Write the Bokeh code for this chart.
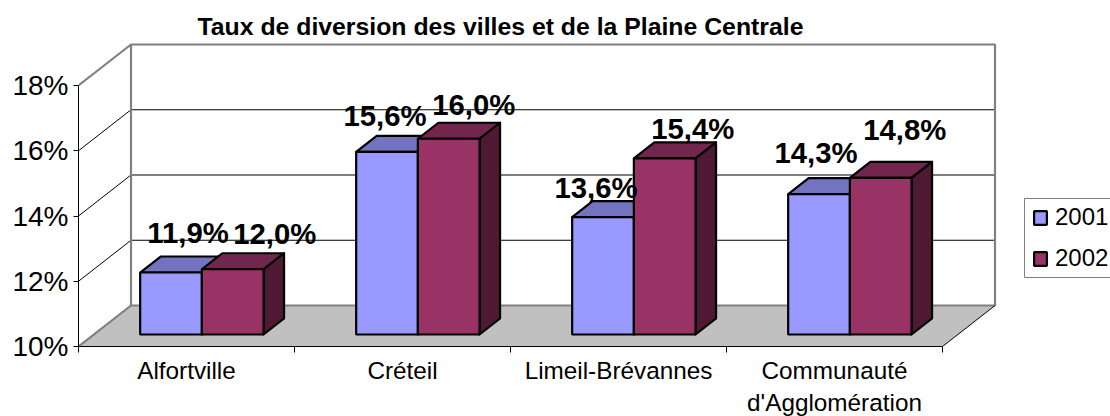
from bokeh.plotting import figure
from bokeh.models import (ColumnDataSource, FixedTicker, Legend, LegendItem, LinearAxis, Range1d, Title)
from bokeh.embed import file_html
from bokeh.resources import INLINE
from bokeh.core.properties import value

# ---- data
categories = ["Alfortville", "Créteil", "Limeil-Brévannes", "Communauté\nd'Agglomération"]
series_2001 = [11.9, 15.6, 13.6, 14.3]
series_2002 = [12.0, 16.0, 15.4, 14.8]
labels_2001 = ["11,9%", "15,6%", "13,6%", "14,3%"]
labels_2002 = ["12,0%", "16,0%", "15,4%", "14,8%"]
y_ticks = [10, 12, 14, 16, 18]
y_labels = ["10%", "12%", "14%", "16%", "18%"]
title = "Taux de diversion des villes et de la Plaine Centrale"

# ---- layout (pixels per unit, 3-D depth)
PX_CAT = 216.0
PX_PCT = 32.625
DX = 52.5 / PX_CAT
DY = 41 / PX_PCT
BAR_W = 61.7 / PX_CAT
D_FRONT = 12 / 41
D_BAR = 16 / 41
LEFT, TOP, BOTTOM = 78, 40, 70
W, H = 1110, 416
FONT = value("Liberation Sans")

lab_dx_2001 = [17, -2, -7, -3]
lab_dx_2002 = [42, 25, 28, 24]
lab_dy_2001 = [-40, -36, -30, -42]
lab_dy_2002 = [-36, -34, -30, -48]

p = figure(width=W, height=H, frame_width=W - LEFT, frame_height=H - TOP - BOTTOM,
           output_backend="svg", toolbar_location=None,
           x_range=Range1d(0, (W - LEFT) / PX_CAT),
           y_range=Range1d(10, 10 + (H - BOTTOM - TOP) / PX_PCT),
           min_border_left=LEFT, min_border_right=0, min_border_top=TOP, min_border_bottom=BOTTOM,
           x_axis_type=None, y_axis_type=None, outline_line_color=None,
           background_fill_color="white", border_fill_color="white")
p.grid.visible = False

p.add_layout(Title(text=title, align="left", offset=119, standoff=1,
                   text_font="Liberation Sans", text_font_size="24.8px",
                   text_font_style="bold", text_color="black"), "above")

n = len(categories)
ymin, ymax = y_ticks[0], y_ticks[-1]

def qx(x, d):
    return x + d * DX

def qy(v, d):
    return v + d * DY

# axes
yax = LinearAxis(ticker=FixedTicker(ticks=y_ticks), bounds=(ymin, ymax),
                 major_label_overrides={t: l for t, l in zip(y_ticks, y_labels)},
                 major_label_text_font="Liberation Sans", major_label_text_font_size="28px",
                 major_label_text_color="black",
                 axis_line_color="black", axis_line_width=1,
                 major_tick_line_color="black", major_tick_in=0, major_tick_out=5,
                 minor_tick_line_color=None, major_label_standoff=5)
p.add_layout(yax, "left")
xax = LinearAxis(ticker=FixedTicker(ticks=[i + 0.5 for i in range(n)],
                                    minor_ticks=list(range(n + 1))),
                 bounds=(0, n),
                 major_label_overrides={i + 0.5: c for i, c in enumerate(categories)},
                 major_label_text_font="Liberation Sans", major_label_text_font_size="24.3px",
                 major_label_text_color="black",
                 axis_line_color="black", axis_line_width=1,
                 major_tick_line_color=None, major_tick_out=0, major_tick_in=0,
                 minor_tick_line_color="black", minor_tick_in=0, minor_tick_out=6,
                 major_label_standoff=4)
p.add_layout(xax, "below")

# walls
p.patch([qx(0, 1), qx(n, 1), qx(n, 1), qx(0, 1)],
        [qy(ymin, 1), qy(ymin, 1), qy(ymax, 1), qy(ymax, 1)], fill_color="white", line_color=None)
p.patch([qx(0, 0), qx(0, 1), qx(n, 1), qx(n, 0)],
        [qy(ymin, 0), qy(ymin, 1), qy(ymin, 1), qy(ymin, 0)], fill_color="#C0C0C0", line_color=None)

# gridlines
gl = y_ticks[1:-1]
p.multi_line([[qx(0, 0), qx(0, 1), qx(n, 1)] for _ in gl],
             [[qy(t, 0), qy(t, 1), qy(t, 1)] for t in gl], line_color="black", line_width=1)

# wall edges
p.line([qx(0, 0), qx(0, 1), qx(n, 1), qx(n, 1), qx(0, 1), qx(0, 1), qx(0, 0)],
       [qy(ymin, 0), qy(ymin, 1), qy(ymin, 1), qy(ymax, 1), qy(ymax, 1), qy(ymin, 1), qy(ymin, 0)],
       line_color="#808080", line_width=2.2)
p.line([qx(0, 0), qx(0, 1)], [qy(ymax, 0), qy(ymax, 1)], line_color="#808080", line_width=2.2)
p.line([qx(n, 0), qx(n, 1)], [qy(ymin, 0), qy(ymin, 1)], line_color="black", line_width=1)

# bars
def draw(vals, offset, front, top, side):
    xl = [i + 0.5 + offset * BAR_W for i in range(n)]
    xr = [x + BAR_W for x in xl]
    d0, d1 = D_FRONT, D_FRONT + D_BAR
    base = qy(ymin, d0)
    p.patches([[qx(a, d0), qx(a, d1), qx(b, d1), qx(b, d0)] for a, b in zip(xl, xr)],
              [[qy(v, d0), qy(v, d1), qy(v, d1), qy(v, d0)] for v in vals],
              fill_color=top, line_color="black", line_width=2.2, line_join="round")
    p.patches([[qx(b, d0), qx(b, d1), qx(b, d1), qx(b, d0)] for b in xr],
              [[qy(v, d0), qy(v, d1), qy(ymin, d1), qy(ymin, d0)] for v in vals],
              fill_color=side, line_color="black", line_width=2.2, line_join="round")
    src = ColumnDataSource(dict(x=[qx((a + b) / 2, d0) for a, b in zip(xl, xr)],
                                top=[qy(v, d0) for v in vals],
                                bottom=[base] * n))
    return p.vbar(x="x", top="top", bottom="bottom", width=BAR_W, source=src,
                  fill_color=front, line_color="black", line_width=2.2), src

r1, s1 = draw(series_2001, -1, "#9999FF", "#7373BF", "#4D4D80")
r2, s2 = draw(series_2002, 0, "#993366", "#73264D", "#4D1933")

# data labels
for src, labs, dx, dy in ((s1, labels_2001, lab_dx_2001, lab_dy_2001),
                          (s2, labels_2002, lab_dx_2002, lab_dy_2002)):
    p.text(x=src.data["x"], y=src.data["top"], text=labs, x_offset=dx, y_offset=dy,
           text_font=FONT, text_font_size="29.3px", text_font_style="bold",
           text_align="center", text_baseline="alphabetic", text_color="black")

# legend frame + legend
p.quad(left=(1024 - LEFT) / PX_CAT, right=(W + 8 - LEFT) / PX_CAT,
       bottom=10 + (H - BOTTOM - 277) / PX_PCT, top=10 + (H - BOTTOM - 198) / PX_PCT,
       fill_color="white", line_color="#808080", line_width=1)
leg = Legend(items=[LegendItem(label="2001", renderers=[r1]), LegendItem(label="2002", renderers=[r2])],
             location=(1032 - LEFT, H - BOTTOM - 272), orientation="vertical",
             border_line_color=None, background_fill_alpha=0, padding=0, margin=0,
             spacing=13, glyph_width=16, glyph_height=17, label_height=17, label_standoff=7,
             label_text_font="Liberation Sans", label_text_font_size="24px", label_text_color="black")
p.add_layout(leg, "center")

open("out.html", "w").write(file_html(p, INLINE))
